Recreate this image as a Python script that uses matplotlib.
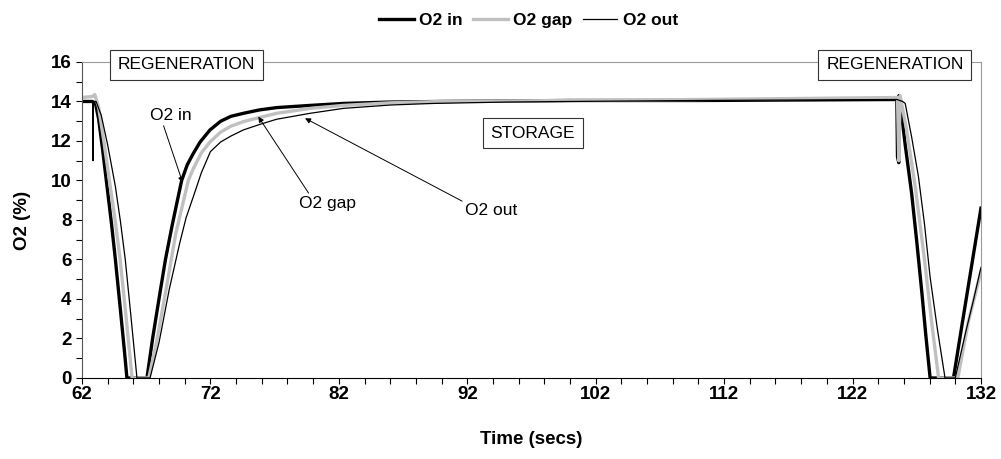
import matplotlib
matplotlib.use('Agg')
import matplotlib.pyplot as plt
from matplotlib.ticker import MultipleLocator, FixedLocator

# O2 in (thick black)
t_in = [62.0, 62.8, 63.05, 63.3, 63.6, 63.95, 64.3, 64.6, 65.0, 65.3, 65.5, 67.06, 67.5, 68.07,
        68.5, 69.0, 69.4, 69.76, 70.2, 70.67, 71.2, 71.97, 72.8, 73.6, 74.57, 75.8, 77.16, 79.76,
        82.35, 86.0, 90.0, 100.0, 110.0,
        125.45, 125.5, 125.6, 125.62, 125.7, 125.9, 126.1, 126.6, 127.0, 127.4, 127.7, 128.04,
        129.86, 130.5, 131.2, 132.0]
o2_in = [14.0, 14.0, 13.9, 13.1, 11.6, 9.7, 7.8, 6.0, 3.4, 1.4, 0.0, 0.0, 2.0, 4.3,
         6.0, 7.66, 8.9, 10.0, 10.8, 11.37, 11.95, 12.56, 13.0, 13.25, 13.4, 13.57, 13.69, 13.8,
         13.9, 13.97, 14.0, 14.05, 14.05,
         14.1, 11.2, 10.9, 14.3, 13.9, 12.9, 11.8, 9.35, 6.9, 4.3, 2.2, 0.0,
         0.0, 2.6, 5.4, 8.6]

# O2 gap (grey)
t_gap = [62.0, 62.8, 63.0, 63.3, 63.7, 64.2, 64.6, 64.97, 65.4, 65.9, 67.2, 67.8, 68.5, 69.3,
         70.28, 70.67, 71.3, 72.0, 72.8, 73.6, 74.57, 75.9, 77.16, 79.76, 82.35, 86.0, 90.0,
         100.0, 110.0,
         125.5, 125.6, 125.7, 126.2, 126.9, 127.6, 128.2, 128.7, 130.2, 131.0, 132.0]
o2_gap = [14.2, 14.25, 14.35, 13.7, 12.0, 9.7, 7.9, 6.0, 3.3, 0.0, 0.0, 1.8, 4.3, 7.3,
          10.0, 10.6, 11.4, 11.97, 12.45, 12.75, 12.98, 13.2, 13.4, 13.65, 13.8, 13.93, 14.0,
          14.05, 14.1,
          14.2, 11.0, 14.3, 12.6, 9.6, 6.0, 2.6, 0.0, 0.0, 2.8, 5.4]

# O2 out (thin black)
t_out = [62.0, 62.84, 62.86, 62.88, 63.1, 63.5, 64.0, 64.6, 65.0, 65.37, 65.8, 66.28, 67.3,
         68.0, 68.8, 69.6, 70.1, 70.67, 71.3, 72.0, 72.8, 73.6, 74.57, 75.9, 77.16, 79.76,
         82.35, 86.0, 89.3, 95.0, 100.0, 110.0,
         125.45, 125.9, 126.1, 126.6, 127.13, 127.6, 128.04, 128.6, 129.2,
         130.0, 130.8, 131.4, 132.0]
o2_out = [14.0, 14.0, 11.0, 14.0, 14.0, 13.3, 11.8, 9.7, 7.9, 6.0, 3.2, 0.0, 0.0,
          1.8, 4.5, 6.8, 8.1, 9.18, 10.4, 11.46, 11.95, 12.25, 12.56, 12.85, 13.1, 13.4,
          13.65, 13.82, 13.9, 13.97, 14.0, 14.05,
          14.1, 14.0, 13.9, 12.2, 10.2, 7.8, 5.1, 2.5, 0.0,
          0.0, 2.3, 3.9, 5.6]

x_ticks = [62, 72, 82, 92, 102, 112, 122, 132]

narrow = ['Liberation Sans Narrow', 'Liberation Sans', 'DejaVu Sans']
plt.rcParams['font.family'] = ['Liberation Sans', 'DejaVu Sans']

fig = plt.figure(figsize=(10.01, 4.59), dpi=100)
ax = fig.add_axes([0.0819, 0.1765, 0.8981, 0.6885])

l1, = ax.plot(t_in, o2_in, color='black', lw=2.4, label='O2 in')
l2, = ax.plot(t_gap, o2_gap, color='#c0c0c0', lw=2.4, label='O2 gap')
l3, = ax.plot(t_out, o2_out, color='black', lw=0.9, label='O2 out')

ax.set_xlim(62, 132)
ax.set_ylim(0, 16)
ax.xaxis.set_major_locator(FixedLocator(x_ticks))
ax.xaxis.set_minor_locator(MultipleLocator(2))
ax.yaxis.set_major_locator(MultipleLocator(2))
ax.yaxis.set_minor_locator(MultipleLocator(1))
ax.tick_params(which='both', direction='out', length=4, width=0.8, colors='black')
ax.tick_params(axis='both', labelsize=13.5)
ax.tick_params(axis='x', pad=2)
for lab in ax.get_xticklabels() + ax.get_yticklabels():
    lab.set_fontweight('bold')

ax.spines['left'].set_color('#555555')
ax.spines['bottom'].set_color('black')
for s in ['top', 'right']:
    ax.spines[s].set_color('#9a9a9a')
    ax.spines[s].set_linewidth(0.8)

ax.set_xlabel('Time (secs)', fontsize=13.5, fontweight='bold', labelpad=20)
ax.set_ylabel('O2 (%)', fontsize=13.5, fontweight='bold', labelpad=14)

# phase boxes
box = dict(boxstyle='square,pad=0.45', fc='white', ec='#333333', lw=0.8)
ax.text(70.1, 15.85, 'REGENERATION', ha='center', va='center', fontsize=12.5,
        family=narrow, bbox=box, zorder=5)
ax.text(125.3, 15.85, 'REGENERATION', ha='center', va='center', fontsize=12.5,
        family=narrow, bbox=box, zorder=5)
ax.text(97.1, 12.4, 'STORAGE', ha='center', va='center', fontsize=12.5,
        family=narrow, bbox=box, zorder=5)

# arrows to curves
arr = dict(arrowstyle='-|>', color='black', lw=0.7, mutation_scale=8, shrinkA=0, shrinkB=0)
ax.annotate('O2 in', xy=(69.84, 9.89), xytext=(68.93, 13.29), ha='center', va='center',
            fontsize=12.5, family=narrow, arrowprops=dict(arr, relpos=(0.3, 0.0)))
ax.annotate('O2 gap', xy=(75.73, 13.23), xytext=(81.12, 8.84), ha='center', va='center',
            fontsize=12.5, family=narrow, arrowprops=dict(arr, relpos=(0.2, 1.0)))
ax.annotate('O2 out', xy=(79.37, 13.15), xytext=(93.85, 8.5), ha='center', va='center',
            fontsize=12.5, family=narrow, arrowprops=dict(arr, relpos=(0.0, 1.0)))

leg = fig.legend(handles=[l1, l2, l3], loc='center', bbox_to_anchor=(0.528, 0.956), ncol=3,
                 frameon=False, prop={'weight': 'bold', 'size': 12.5}, handlelength=2.0,
                 handletextpad=0.3, columnspacing=0.6)

fig.savefig('out.png', dpi=100)
